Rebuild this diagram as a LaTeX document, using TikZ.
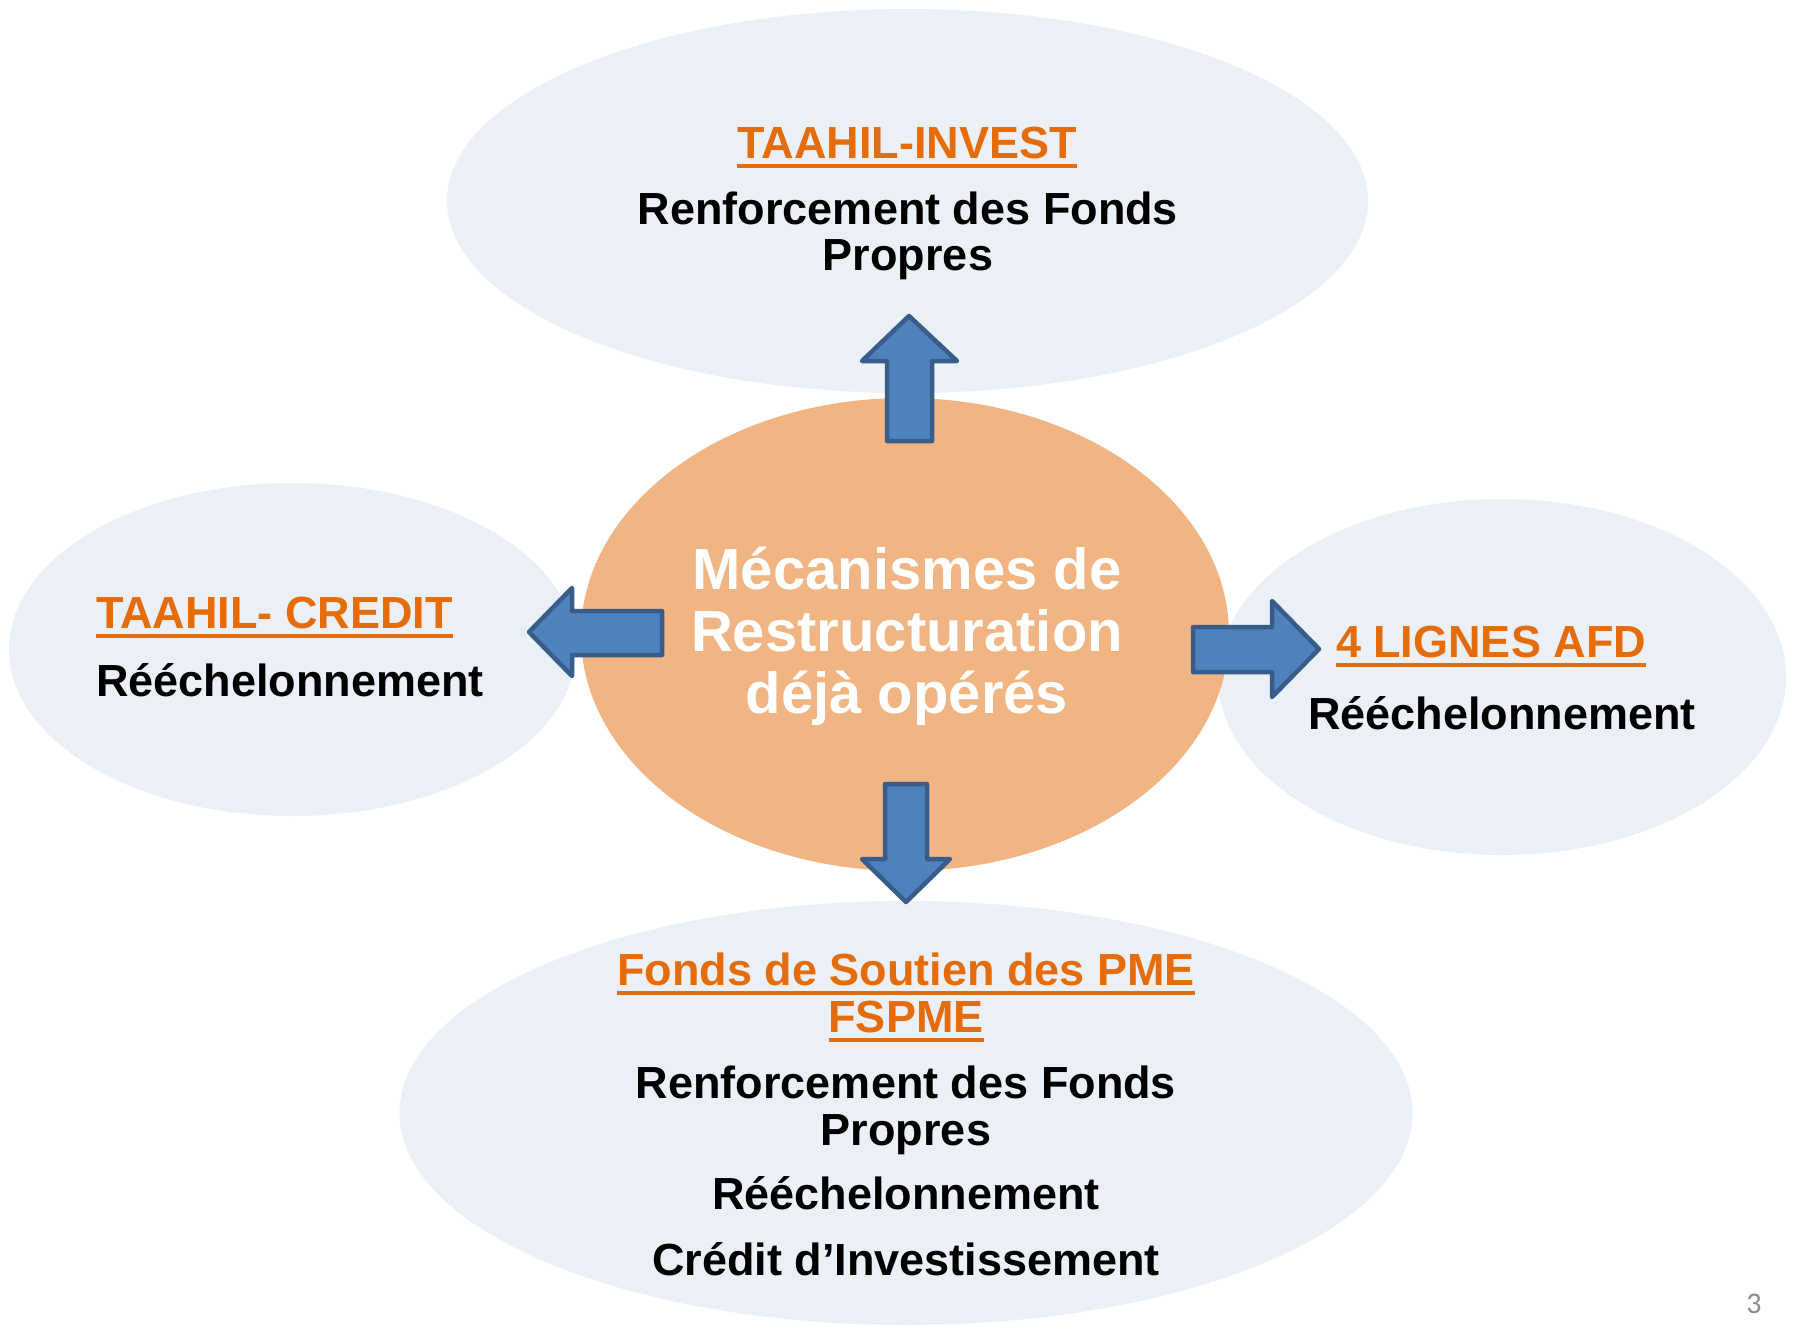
\documentclass[tikz,border=0pt]{standalone}
\usepackage{fontspec}
\setmainfont{Liberation Sans}
\newfontfamily\pagefont{Carlito}
\usetikzlibrary{shapes.geometric}
\definecolor{lightbg}{HTML}{EBEFF6}
\definecolor{centerfill}{HTML}{F1B584}
\definecolor{arrowfill}{HTML}{4F81BD}
\definecolor{arrowdraw}{HTML}{385D8A}
\definecolor{titleorange}{HTML}{E46C0A}
\definecolor{pagegrey}{HTML}{8C8C8C}
\newcommand\ulbar[1]{\setbox0=\hbox{#1}\rlap{\rule[-9.5pt]{\wd0}{4pt}}\box0}
\begin{document}
\begin{tikzpicture}[x=1pt,y=-1pt,
  bubble/.style={ellipse, fill=lightbg, draw=none, inner sep=0pt},
  hub/.style={ellipse, fill=centerfill, draw=none, inner sep=0pt},
  blockarrow/.style={fill=arrowfill, draw=arrowdraw, line width=4.5pt, line join=round},
  txt/.style={inner sep=0pt, anchor=base, font={\fontsize{45}{45}\bfseries\selectfont}},
  heading/.style={txt, text=titleorange},
  bodytxt/.style={txt, text=black},
  hubtxt/.style={inner sep=0pt, anchor=base, text=white, font={\fontsize{58}{58}\bfseries\selectfont}},
]
\useasboundingbox[fill=white] (0,0) rectangle (1798,1325);

% bubbles
\node[bubble, minimum width=921pt, minimum height=384pt] (top) at (907.5,201) {};
\node[bubble, minimum width=567pt, minimum height=333pt] (left) at (292.5,649.5) {};
\node[bubble, minimum width=568pt, minimum height=356pt] (right) at (1502,677) {};
\node[bubble, minimum width=1013pt, minimum height=424pt] (bottom) at (906,1113) {};
\node[hub, minimum width=648pt, minimum height=473pt] (center) at (905,634.5) {};

% block arrows
\draw[blockarrow] (887,441) -- (887,361) -- (862,361) -- (909,316) -- (957,361) -- (932,361) -- (932,441) -- cycle;
\draw[blockarrow] (529,632) -- (572,588) -- (572,611) -- (662,611) -- (662,655) -- (572,655) -- (572,676) -- cycle;
\draw[blockarrow] (1193,627) -- (1272,627) -- (1272,601) -- (1319,649) -- (1272,697) -- (1272,672) -- (1193,672) -- cycle;
\draw[blockarrow] (885,784) -- (927,784) -- (927,859) -- (950,859) -- (906,902) -- (862,859) -- (885,859) -- cycle;

% center text
\node[hubtxt] (c1) at (907,589) {Mécanismes de};
\node[hubtxt] (c2) at (907,651) {Restructuration};
\node[hubtxt] (c3) at (907,713) {déjà opérés};

% top
\node[heading] (t1) at (907,158) {\ulbar{TAAHIL-INVEST}};
\node[bodytxt] (t2) at (908,224) {Renforcement des Fonds};
\node[bodytxt] (t3) at (908,270) {Propres};

% left
\node[heading, anchor=base west] (l1) at (96,628) {\ulbar{TAAHIL- CREDIT}};
\node[bodytxt, anchor=base west] (l2) at (96,696) {Rééchelonnement};

% right
\node[heading] (r1) at (1491,657) {\ulbar{4 LIGNES AFD}};
\node[bodytxt] (r2) at (1502,729) {Rééchelonnement};

% bottom
\node[heading] (b1) at (906,985) {\ulbar{Fonds de Soutien des PME}};
\node[heading] (b2) at (906,1032) {\ulbar{FSPME}};
\node[bodytxt] (b3) at (906,1098) {Renforcement des Fonds};
\node[bodytxt] (b4) at (906,1145) {Propres};
\node[bodytxt] (b5) at (906,1209) {Rééchelonnement};
\node[bodytxt] (b6) at (906,1275) {Crédit d’Investissement};

% page number
\node[inner sep=0pt, anchor=base, text=pagegrey, font={\pagefont\fontsize{30}{30}\selectfont}] (pg) at (1754,1313) {3};
\end{tikzpicture}
\end{document}
